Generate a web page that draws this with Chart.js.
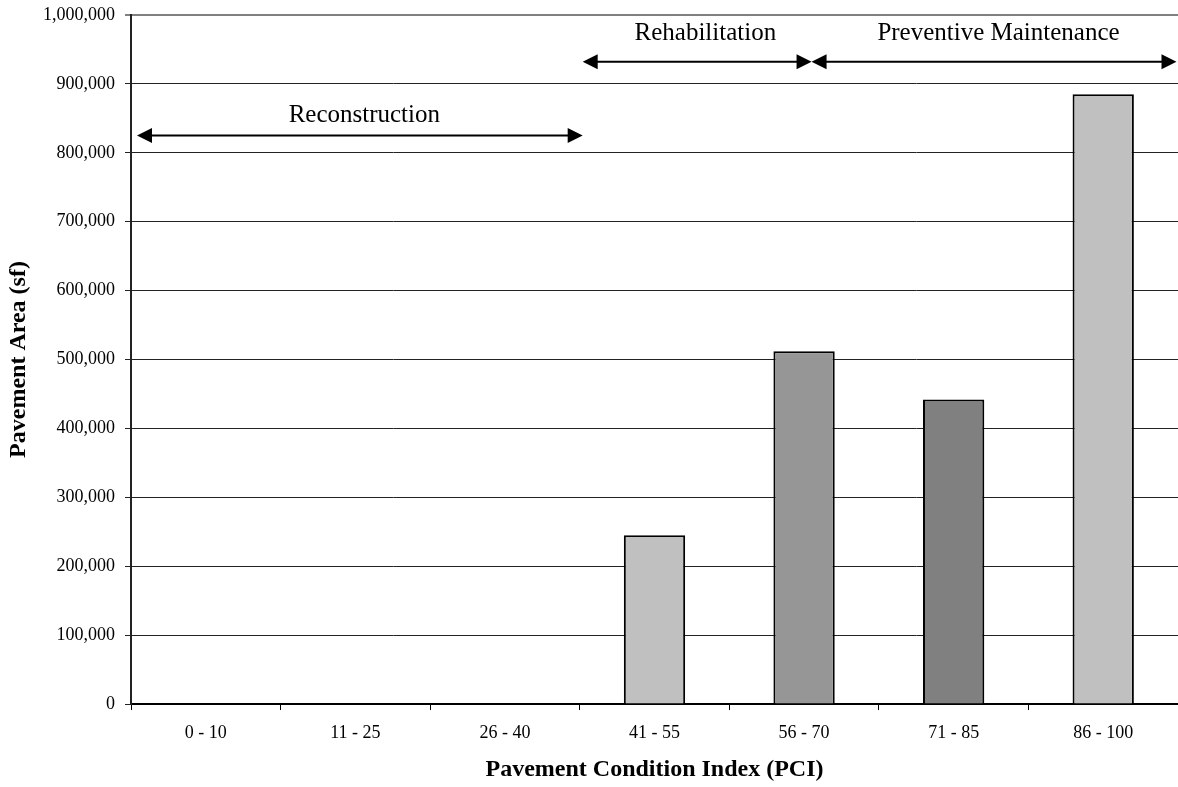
<!DOCTYPE html>
<html>
<head>
<meta charset="utf-8">
<title>Pavement Area by PCI</title>
<script src="https://cdn.jsdelivr.net/npm/chart.js@4.4.1/dist/chart.umd.min.js"></script>
<style>
  html, body { margin: 0; padding: 0; background: #fff; overflow: hidden; }
  canvas { display: block; }
</style>
</head>
<body>
<canvas id="pciChart" width="1178" height="787"></canvas>
<script>
const categories = ["0 - 10", "11 - 25", "26 - 40", "41 - 55", "56 - 70", "71 - 85", "86 - 100"];
const areaValues = [0, 0, 0, 245000, 512000, 442000, 885000];
const barColors = ["#C0C0C0", "#C0C0C0", "#C0C0C0", "#C0C0C0", "#969696", "#808080", "#C0C0C0"];

// treatment ranges, in category index units on the x axis
const phaseNames = ["Reconstruction", "Rehabilitation", "Preventive Maintenance"];
const phaseStart = [-0.46, 2.52, 4.05];
const phaseEnd = [2.52, 4.05, 6.49];
const phaseLevel = [825000, 932000, 932000];
const phaseLabelAt = [1.06, 3.34, 5.30];
const phaseLabelLevel = [845000, 964000, 964000];

const yMin = 0;
const yMax = 1000000;
const yStep = 100000;

const serif = '"Liberation Serif", "Times New Roman", serif';

// draws the double headed arrows and their captions
const phaseArrows = {
  id: "phaseArrows",
  afterDraw(chart) {
    const ctx = chart.ctx;
    const xs = chart.scales.x;
    const ys = chart.scales.y;
    const head = 15;
    const half = 7.5;
    ctx.save();
    ctx.strokeStyle = "#000";
    ctx.fillStyle = "#000";
    ctx.lineWidth = 2;
    phaseNames.forEach((name, i) => {
      const x1 = xs.getPixelForValue(phaseStart[i]);
      const x2 = xs.getPixelForValue(phaseEnd[i]);
      const y = ys.getPixelForValue(phaseLevel[i]);
      ctx.beginPath();
      ctx.moveTo(x1 + head - 1, y);
      ctx.lineTo(x2 - head + 1, y);
      ctx.stroke();
      ctx.beginPath();
      ctx.moveTo(x1, y);
      ctx.lineTo(x1 + head, y - half);
      ctx.lineTo(x1 + head, y + half);
      ctx.closePath();
      ctx.fill();
      ctx.beginPath();
      ctx.moveTo(x2, y);
      ctx.lineTo(x2 - head, y - half);
      ctx.lineTo(x2 - head, y + half);
      ctx.closePath();
      ctx.fill();

      ctx.font = "25px " + serif;
      ctx.textAlign = "center";
      ctx.textBaseline = "alphabetic";
      ctx.fillText(name, xs.getPixelForValue(phaseLabelAt[i]), ys.getPixelForValue(phaseLabelLevel[i]));
    });
    ctx.restore();
  }
};

const ctx = document.getElementById("pciChart").getContext("2d");

new Chart(ctx, {
  type: "bar",
  data: {
    labels: categories,
    datasets: [{
      label: "Pavement Area (sf)",
      data: areaValues,
      backgroundColor: barColors,
      borderColor: "#000",
      borderWidth: 2,
      borderSkipped: "bottom",
      barPercentage: 0.41,
      categoryPercentage: 1.0
    }]
  },
  options: {
    responsive: false,
    animation: false,
    devicePixelRatio: 1,
    layout: { padding: { top: 15, right: 0, bottom: 0, left: 0 } },
    plugins: {
      legend: { display: false },
      tooltip: { enabled: false }
    },
    scales: {
      x: {
        offset: true,
        grid: {
          offset: true,
          drawOnChartArea: false,
          drawTicks: true,
          tickLength: 6,
          color: "#000",
          lineWidth: 1
        },
        border: { display: true, color: "#000", width: 2 },
        ticks: {
          color: "#000",
          font: { family: serif, size: 18 },
          padding: 12,
          maxRotation: 0
        },
        title: {
          display: true,
          text: "Pavement Condition Index (PCI)",
          color: "#000",
          font: { family: serif, size: 24, weight: "bold" },
          padding: { top: 0, bottom: 3 }
        },
        afterFit(scale) { scale.height = 83; }
      },
      y: {
        min: yMin,
        max: yMax,
        grid: {
          drawTicks: true,
          tickLength: 6,
          color: (c) => (c.tick && c.tick.value === yMax ? "#808080" : "#222"),
          lineWidth: (c) => (c.tick && c.tick.value === yMax ? 2 : 1)
        },
        border: { display: true, color: "#222", width: 2 },
        ticks: {
          stepSize: yStep,
          color: "#000",
          font: { family: serif, size: 18 },
          padding: 10,
          callback: (v) => Number(v).toLocaleString("en-US")
        },
        title: {
          display: true,
          text: "Pavement Area (sf)",
          color: "#000",
          font: { family: serif, size: 24, weight: "bold" },
          padding: { top: 4, bottom: 0 }
        },
        afterFit(scale) {
          scale.width = 131;
          scale.paddingTop = 0;
        }
      }
    }
  },
  plugins: [phaseArrows]
});
</script>
</body>
</html>
